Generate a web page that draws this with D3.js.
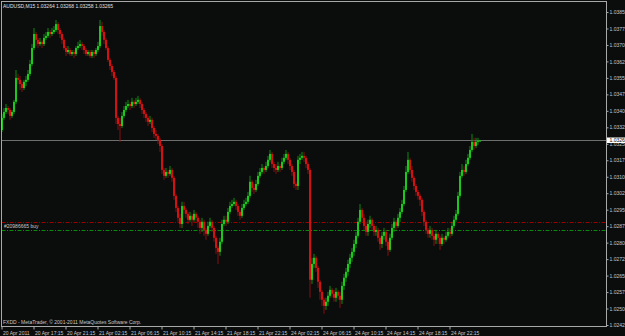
<!DOCTYPE html>
<html>
<head>
<meta charset="utf-8">
<script src="https://cdn.jsdelivr.net/npm/d3@7"></script>
<style>
  body { margin: 0; background: #0b0d0d; }
  svg { display: block; }
  text { font-family: "Liberation Sans", Arial, sans-serif; font-size: 5px; }
</style>
</head>
<body>
<div id="chart"></div>
<script>
// AUDUSD M15, 20-24 Apr 2011
const symbol = 'AUDUSD,M15';
const lastQuote = [1.03264, 1.03268, 1.03258, 1.03265];
const footer = 'FXDD - MetaTrader, \u00a9 2001-2011 MetaQuotes Software Corp.';

const opens = [
  1.03313,1.03368,1.03395,1.03413,1.03404,1.03377,1.03395,1.03441,1.03550,1.03541,
  1.03522,1.03504,1.03532,1.03541,1.03568,1.03613,1.03686,1.03750,1.03723,1.03704,
  1.03714,1.03704,1.03732,1.03741,1.03759,1.03750,1.03759,1.03768,1.03795,1.03768,
  1.03750,1.03723,1.03686,1.03668,1.03677,1.03659,1.03668,1.03659,1.03686,1.03695,
  1.03704,1.03695,1.03677,1.03659,1.03668,1.03650,1.03668,1.03659,1.03677,1.03695,
  1.03786,1.03759,1.03723,1.03686,1.03632,1.03604,1.03577,1.03550,1.03368,1.03340,
  1.03331,1.03377,1.03404,1.03422,1.03431,1.03422,1.03441,1.03431,1.03441,1.03450,
  1.03431,1.03404,1.03386,1.03368,1.03350,1.03359,1.03322,1.03295,1.03286,1.03268,
  1.03240,1.03131,1.03104,1.03122,1.03113,1.03131,1.03095,1.03013,1.02958,1.02913,
  1.02885,1.02967,1.02949,1.02931,1.02904,1.02922,1.02904,1.02931,1.02913,1.02895,
  1.02867,1.02895,1.02858,1.02840,1.02876,1.02895,1.02867,1.02822,1.02776,1.02758,
  1.02804,1.02885,1.02904,1.02895,1.02940,1.02967,1.02976,1.02986,1.02967,1.02940,
  1.02922,1.02958,1.02976,1.02986,1.03013,1.03077,1.03049,1.03040,1.03067,1.03104,
  1.03122,1.03140,1.03131,1.03149,1.03177,1.03204,1.03158,1.03140,1.03131,1.03149,
  1.03140,1.03168,1.03186,1.03204,1.03177,1.03149,1.03122,1.03067,1.03058,1.03177,
  1.03186,1.03195,1.03186,1.03158,1.03131,1.02631,1.02703,1.02731,1.02685,1.02622,
  1.02576,1.02540,1.02512,1.02531,1.02558,1.02585,1.02567,1.02549,1.02576,1.02558,
  1.02540,1.02603,1.02640,1.02667,1.02703,1.02731,1.02758,1.02794,1.02831,1.02895,
  1.02949,1.02913,1.02876,1.02849,1.02885,1.02904,1.02876,1.02849,1.02858,1.02822,
  1.02794,1.02831,1.02849,1.02804,1.02767,1.02822,1.02867,1.02895,1.02876,1.02913,
  1.02940,1.02976,1.03040,1.03122,1.03177,1.03131,1.03095,1.03058,1.03031,1.03013,
  1.02995,1.02940,1.02895,1.02858,1.02840,1.02858,1.02831,1.02813,1.02840,1.02822,
  1.02794,1.02822,1.02813,1.02831,1.02849,1.02840,1.02876,1.02904,1.02931,1.03013,
  1.03104,1.03131,1.03122,1.03158,1.03186,1.03222,1.03259,1.03240,1.03259,1.03264
];
const highs = [
  1.03386,1.03413,1.03431,1.03422,1.03413,1.03404,1.03450,1.03586,1.03568,1.03559,
  1.03532,1.03541,1.03559,1.03586,1.03632,1.03704,1.03777,1.03759,1.03732,1.03732,
  1.03723,1.03750,1.03759,1.03777,1.03768,1.03777,1.03786,1.03814,1.03805,1.03777,
  1.03759,1.03732,1.03695,1.03695,1.03686,1.03677,1.03677,1.03695,1.03714,1.03723,
  1.03714,1.03704,1.03686,1.03677,1.03677,1.03677,1.03677,1.03686,1.03714,1.03814,
  1.03805,1.03768,1.03732,1.03695,1.03641,1.03613,1.03586,1.03559,1.03377,1.03368,
  1.03395,1.03422,1.03441,1.03450,1.03441,1.03459,1.03450,1.03459,1.03468,1.03459,
  1.03441,1.03413,1.03395,1.03377,1.03377,1.03368,1.03331,1.03313,1.03295,1.03277,
  1.03249,1.03140,1.03140,1.03131,1.03149,1.03140,1.03104,1.03022,1.02967,1.02931,
  1.02986,1.02986,1.02958,1.02940,1.02940,1.02931,1.02949,1.02940,1.02922,1.02904,
  1.02913,1.02904,1.02867,1.02895,1.02913,1.02904,1.02876,1.02831,1.02785,1.02822,
  1.02904,1.02922,1.02922,1.02958,1.02986,1.02995,1.03004,1.02995,1.02976,1.02949,
  1.02976,1.02995,1.03004,1.03031,1.03104,1.03086,1.03067,1.03086,1.03122,1.03140,
  1.03158,1.03149,1.03168,1.03195,1.03222,1.03213,1.03168,1.03158,1.03168,1.03158,
  1.03186,1.03204,1.03222,1.03213,1.03186,1.03158,1.03131,1.03077,1.03195,1.03204,
  1.03213,1.03213,1.03195,1.03168,1.03140,1.02731,1.02749,1.02740,1.02694,1.02631,
  1.02585,1.02549,1.02549,1.02576,1.02603,1.02594,1.02585,1.02594,1.02585,1.02576,
  1.02622,1.02658,1.02685,1.02722,1.02749,1.02776,1.02813,1.02849,1.02913,1.02976,
  1.02958,1.02931,1.02895,1.02904,1.02922,1.02913,1.02885,1.02876,1.02867,1.02831,
  1.02849,1.02867,1.02858,1.02813,1.02840,1.02885,1.02913,1.02904,1.02931,1.02958,
  1.02995,1.03058,1.03149,1.03213,1.03186,1.03149,1.03104,1.03067,1.03040,1.03022,
  1.03004,1.02949,1.02904,1.02867,1.02876,1.02867,1.02840,1.02858,1.02849,1.02831,
  1.02840,1.02831,1.02849,1.02867,1.02867,1.02895,1.02922,1.02949,1.03031,1.03122,
  1.03158,1.03149,1.03177,1.03204,1.03240,1.03295,1.03277,1.03277,1.03277,1.03268
];
const lows = [
  1.03304,1.03359,1.03386,1.03386,1.03359,1.03368,1.03386,1.03431,1.03522,1.03495,
  1.03486,1.03495,1.03513,1.03532,1.03559,1.03604,1.03677,1.03695,1.03686,1.03695,
  1.03686,1.03695,1.03723,1.03732,1.03732,1.03741,1.03750,1.03759,1.03750,1.03732,
  1.03704,1.03677,1.03650,1.03659,1.03650,1.03650,1.03641,1.03650,1.03677,1.03686,
  1.03677,1.03659,1.03650,1.03650,1.03641,1.03641,1.03641,1.03650,1.03668,1.03686,
  1.03741,1.03704,1.03677,1.03623,1.03586,1.03559,1.03541,1.03340,1.03313,1.03259,
  1.03322,1.03368,1.03395,1.03413,1.03404,1.03413,1.03413,1.03422,1.03431,1.03413,
  1.03386,1.03368,1.03350,1.03331,1.03340,1.03304,1.03277,1.03268,1.03249,1.03213,
  1.03113,1.03086,1.03095,1.03095,1.03104,1.03077,1.02995,1.02940,1.02895,1.02867,
  1.02867,1.02931,1.02913,1.02885,1.02895,1.02876,1.02895,1.02895,1.02867,1.02840,
  1.02849,1.02831,1.02813,1.02831,1.02867,1.02849,1.02804,1.02749,1.02703,1.02740,
  1.02794,1.02876,1.02876,1.02885,1.02931,1.02958,1.02967,1.02949,1.02922,1.02904,
  1.02913,1.02949,1.02967,1.02976,1.03004,1.03031,1.03022,1.03031,1.03058,1.03095,
  1.03113,1.03113,1.03122,1.03140,1.03168,1.03140,1.03122,1.03113,1.03122,1.03122,
  1.03131,1.03158,1.03177,1.03158,1.03131,1.03104,1.03049,1.03040,1.03040,1.03158,
  1.03177,1.03168,1.03140,1.03113,1.02549,1.02612,1.02685,1.02667,1.02594,1.02540,
  1.02512,1.02476,1.02494,1.02512,1.02549,1.02549,1.02531,1.02531,1.02540,1.02503,
  1.02521,1.02585,1.02622,1.02649,1.02685,1.02713,1.02740,1.02776,1.02822,1.02885,
  1.02895,1.02858,1.02831,1.02831,1.02867,1.02858,1.02831,1.02831,1.02804,1.02767,
  1.02776,1.02813,1.02785,1.02740,1.02758,1.02813,1.02849,1.02858,1.02867,1.02895,
  1.02931,1.02967,1.03031,1.03113,1.03113,1.03077,1.03040,1.03013,1.02995,1.02967,
  1.02922,1.02876,1.02840,1.02822,1.02822,1.02813,1.02785,1.02794,1.02794,1.02767,
  1.02785,1.02794,1.02804,1.02822,1.02822,1.02831,1.02867,1.02895,1.02922,1.03004,
  1.03095,1.03104,1.03113,1.03149,1.03177,1.03213,1.03222,1.03231,1.03245,1.03258
];
const closes = [
  1.03368,1.03395,1.03413,1.03404,1.03377,1.03395,1.03441,1.03550,1.03541,1.03522,
  1.03504,1.03532,1.03541,1.03568,1.03613,1.03686,1.03750,1.03723,1.03704,1.03714,
  1.03704,1.03732,1.03741,1.03759,1.03750,1.03759,1.03768,1.03795,1.03768,1.03750,
  1.03723,1.03686,1.03668,1.03677,1.03659,1.03668,1.03659,1.03686,1.03695,1.03704,
  1.03695,1.03677,1.03659,1.03668,1.03650,1.03668,1.03659,1.03677,1.03695,1.03786,
  1.03759,1.03723,1.03686,1.03632,1.03604,1.03577,1.03550,1.03368,1.03340,1.03331,
  1.03377,1.03404,1.03422,1.03431,1.03422,1.03441,1.03431,1.03441,1.03450,1.03431,
  1.03404,1.03386,1.03368,1.03350,1.03359,1.03322,1.03295,1.03286,1.03268,1.03240,
  1.03131,1.03104,1.03122,1.03113,1.03131,1.03095,1.03013,1.02958,1.02913,1.02885,
  1.02967,1.02949,1.02931,1.02904,1.02922,1.02904,1.02931,1.02913,1.02895,1.02867,
  1.02895,1.02858,1.02840,1.02876,1.02895,1.02867,1.02822,1.02776,1.02758,1.02804,
  1.02885,1.02904,1.02895,1.02940,1.02967,1.02976,1.02986,1.02967,1.02940,1.02922,
  1.02958,1.02976,1.02986,1.03013,1.03077,1.03049,1.03040,1.03067,1.03104,1.03122,
  1.03140,1.03131,1.03149,1.03177,1.03204,1.03158,1.03140,1.03131,1.03149,1.03140,
  1.03168,1.03186,1.03204,1.03177,1.03149,1.03122,1.03067,1.03058,1.03177,1.03186,
  1.03195,1.03186,1.03158,1.03131,1.02631,1.02703,1.02731,1.02685,1.02622,1.02576,
  1.02540,1.02512,1.02531,1.02558,1.02585,1.02567,1.02549,1.02576,1.02558,1.02540,
  1.02603,1.02640,1.02667,1.02703,1.02731,1.02758,1.02794,1.02831,1.02895,1.02949,
  1.02913,1.02876,1.02849,1.02885,1.02904,1.02876,1.02849,1.02858,1.02822,1.02794,
  1.02831,1.02849,1.02804,1.02767,1.02822,1.02867,1.02895,1.02876,1.02913,1.02940,
  1.02976,1.03040,1.03122,1.03177,1.03131,1.03095,1.03058,1.03031,1.03013,1.02995,
  1.02940,1.02895,1.02858,1.02840,1.02858,1.02831,1.02813,1.02840,1.02822,1.02794,
  1.02822,1.02813,1.02831,1.02849,1.02840,1.02876,1.02904,1.02931,1.03013,1.03104,
  1.03131,1.03122,1.03158,1.03186,1.03222,1.03259,1.03240,1.03259,1.03264,1.03265
];

// time axis: one label every 16 bars
const timeLabels = [
  '20 Apr 2011', '20 Apr 17:15', '20 Apr 21:15', '21 Apr 02:15', '21 Apr 06:15',
  '21 Apr 10:15', '21 Apr 14:15', '21 Apr 18:15', '21 Apr 22:15', '24 Apr 02:15',
  '24 Apr 06:15', '24 Apr 10:15', '24 Apr 14:15', '24 Apr 18:15', '24 Apr 22:15'
];
const priceTicks = [
  1.02425, 1.02500, 1.02575, 1.02650, 1.02725, 1.02800, 1.02875, 1.02950, 1.03025, 1.03100,
  1.03175, 1.03250, 1.03325, 1.03400, 1.03475, 1.03550, 1.03625, 1.03700, 1.03775, 1.03850
];

// open order
const orderPrice = 1.02858;
const stopPrice = 1.02895;
const orderLabel = '#20986665 buy';

const width = 625, height = 336;
const frame = { left: 1.5, top: 1.5, right: 606.5, bottom: 326.5 };

const svg = d3.select('#chart')
  .append('svg')
  .attr('width', width)
  .attr('height', height)
  .style('background', '#0b0d0d');

const x = d3.scaleLinear()
  .domain([0, closes.length - 1])
  .range([1.5, 1.5 + 2 * (closes.length - 1)]);

const y = d3.scaleLinear()
  .domain([priceTicks[0], priceTicks[priceTicks.length - 1]])
  .range([325, 12]);

svg.append('clipPath').attr('id', 'plot-clip')
  .append('rect')
  .attr('x', frame.left).attr('y', frame.top)
  .attr('width', frame.right - frame.left).attr('height', frame.bottom - frame.top);

const plot = svg.append('g').attr('clip-path', 'url(#plot-clip)');

// order lines
plot.append('line')
  .attr('x1', frame.left).attr('x2', frame.right)
  .attr('y1', Math.round(y(stopPrice)) + 0.5).attr('y2', Math.round(y(stopPrice)) + 0.5)
  .attr('stroke', '#9a0000')
  .attr('stroke-dasharray', '4,1.5,1,1.5');
plot.append('line')
  .attr('x1', frame.left).attr('x2', frame.right)
  .attr('y1', Math.round(y(orderPrice)) + 0.5).attr('y2', Math.round(y(orderPrice)) + 0.5)
  .attr('stroke', '#0a8a0a')
  .attr('stroke-dasharray', '4,1.5,1,1.5');
plot.append('text')
  .attr('x', 4).attr('y', y(orderPrice) - 1.5)
  .attr('fill', '#c8c8c8')
  .text(orderLabel);

// bid line
const lastClose = closes[closes.length - 1];
plot.append('line')
  .attr('x1', frame.left).attr('x2', frame.right)
  .attr('y1', Math.round(y(lastClose)) + 0.5).attr('y2', Math.round(y(lastClose)) + 0.5)
  .attr('stroke', '#6e6e6e');

// candles
const candles = closes.map((c, i) => ({ i, o: opens[i], h: highs[i], l: lows[i], c }));
const up = d => d.c >= d.o;

plot.selectAll('.wick')
  .data(candles)
  .join('line')
  .attr('class', 'wick')
  .attr('x1', d => x(d.i) + 0.5).attr('x2', d => x(d.i) + 0.5)
  .attr('y1', d => y(d.h)).attr('y2', d => y(d.l))
  .attr('stroke', d => up(d) ? '#0f8a0f' : '#8a0f0f');

plot.selectAll('.body')
  .data(candles)
  .join('rect')
  .attr('class', 'body')
  .attr('x', d => x(d.i) - 0.5)
  .attr('width', 2)
  .attr('y', d => y(Math.max(d.o, d.c)))
  .attr('height', d => Math.max(1, Math.abs(y(d.o) - y(d.c))))
  .attr('fill', d => up(d) ? '#1cc81c' : '#d41010');

// frame
svg.append('rect')
  .attr('x', frame.left).attr('y', frame.top)
  .attr('width', frame.right - frame.left).attr('height', frame.bottom - frame.top)
  .attr('fill', 'none')
  .attr('stroke', '#a8a8a8');

// price axis
const yAxis = svg.append('g')
  .attr('transform', `translate(${frame.right},0)`)
  .call(d3.axisRight(y)
    .tickValues(priceTicks)
    .tickSize(2)
    .tickSizeOuter(0)
    .tickPadding(1)
    .tickFormat(d3.format('.5f')));
yAxis.select('.domain').remove();
yAxis.selectAll('line').attr('stroke', '#a8a8a8');
yAxis.selectAll('text').attr('fill', '#c8c8c8').style('font-size', '5px');

// current price box
const bidY = y(lastClose);
svg.append('rect')
  .attr('x', frame.right + 0.5).attr('y', bidY - 3)
  .attr('width', width - frame.right).attr('height', 5.5)
  .attr('fill', '#ffffff');
svg.append('text')
  .attr('x', frame.right + 3).attr('y', bidY + 1.7)
  .attr('fill', '#000000')
  .text(d3.format('.5f')(lastClose));

// time axis
const labelIdx = timeLabels.map((t, k) => k * 16);
const xAxis = svg.append('g')
  .attr('transform', `translate(0,${frame.bottom})`)
  .call(d3.axisBottom(x)
    .tickValues(labelIdx)
    .tickSize(3)
    .tickSizeOuter(0)
    .tickPadding(1.5)
    .tickFormat((d, k) => timeLabels[k]));
xAxis.select('.domain').remove();
xAxis.selectAll('line').attr('stroke', '#a8a8a8');
xAxis.selectAll('text')
  .attr('text-anchor', 'start')
  .attr('x', 1)
  .attr('fill', '#c8c8c8')
  .style('font-size', '5px');

// header & footer
svg.append('text')
  .attr('x', 3).attr('y', 7.5)
  .attr('fill', '#e0e0e0')
  .text(`${symbol}  ${lastQuote.map(d3.format('.5f')).join(' ')}`);
svg.append('text')
  .attr('x', 3).attr('y', 324)
  .attr('fill', '#c8c8c8')
  .text(footer);
</script>
</body>
</html>
